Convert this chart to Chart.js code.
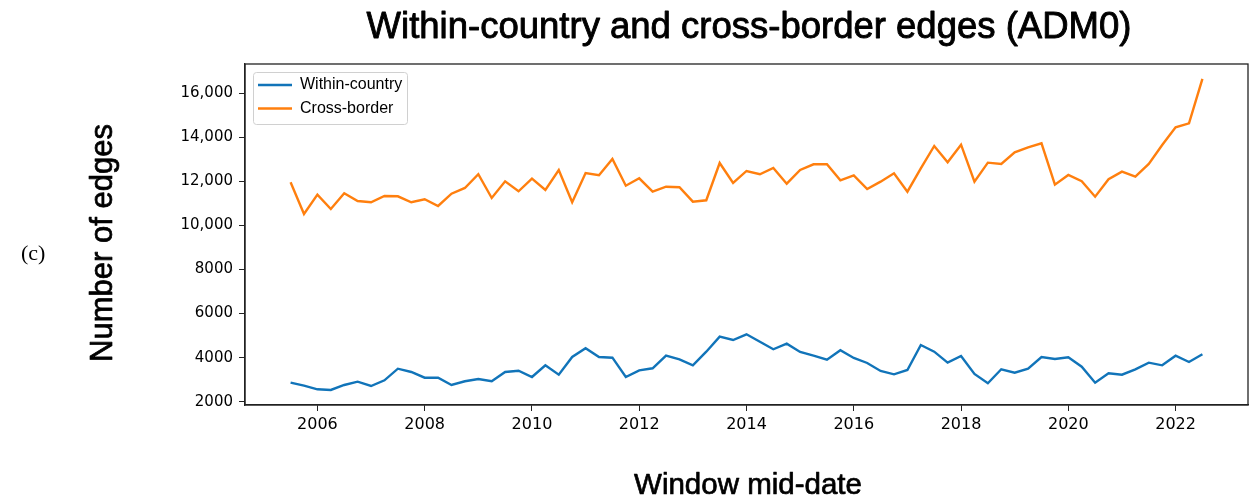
<!DOCTYPE html>
<html>
<head>
<meta charset="utf-8">
<script src="https://cdn.jsdelivr.net/npm/chart.js@4/dist/chart.umd.min.js"></script>
<style>
  html, body { margin: 0; padding: 0; background: #fff; }
  #wrap { position: relative; width: 1250px; height: 499px; }
</style>
</head>
<body>
<div id="wrap"><canvas id="c" width="1250" height="499"></canvas></div>
<script>
// ---- data ----
const dates = [
  2005.5, 2005.75, 2006.0, 2006.25, 2006.5, 2006.75, 2007.0, 2007.25, 2007.5, 2007.75,
  2008.0, 2008.25, 2008.5, 2008.75, 2009.0, 2009.25, 2009.5, 2009.75, 2010.0, 2010.25,
  2010.5, 2010.75, 2011.0, 2011.25, 2011.5, 2011.75, 2012.0, 2012.25, 2012.5, 2012.75,
  2013.0, 2013.25, 2013.5, 2013.75, 2014.0, 2014.25, 2014.5, 2014.75, 2015.0, 2015.25,
  2015.5, 2015.75, 2016.0, 2016.25, 2016.5, 2016.75, 2017.0, 2017.25, 2017.5, 2017.75,
  2018.0, 2018.25, 2018.5, 2018.75, 2019.0, 2019.25, 2019.5, 2019.75, 2020.0, 2020.25,
  2020.5, 2020.75, 2021.0, 2021.25, 2021.5, 2021.75, 2022.0, 2022.25, 2022.5
];
const withinCountry = [
  2863, 2726, 2563, 2531, 2758, 2908, 2713, 2972, 3498, 3348,
  3090, 3090, 2758, 2926, 3031, 2926, 3348, 3407, 3121, 3652,
  3226, 4029, 4424, 4029, 3998, 3121, 3425, 3516, 4088, 3925,
  3652, 4270, 4951, 4801, 5060, 4724, 4379, 4633, 4256, 4088,
  3907, 4334, 3984, 3757, 3394, 3244, 3439, 4574, 4270, 3771,
  4075, 3258, 2835, 3471, 3317, 3498, 4029, 3939, 4016, 3589,
  2863, 3289, 3226, 3471, 3771, 3652, 4088, 3802, 4152
];
const crossBorder = [
  11961, 10521, 11398, 10749, 11461, 11112, 11053, 11339, 11325, 11053,
  11189, 10885, 11443, 11702, 12324, 11248, 12006, 11552, 12124, 11611,
  12519, 11053, 12383, 12278, 13018, 11806, 12142, 11534, 11761, 11733,
  11080, 11144, 12837, 11929, 12474, 12324, 12610, 11897, 12519, 12778,
  12778, 12052, 12278, 11657, 11988, 12369, 11534, 12596, 13609, 12869,
  13668, 11988, 12851, 12792, 13323, 13550, 13731, 11852, 12292, 12006,
  11307, 12097, 12442, 12215, 12792, 13654, 14458, 14639, 16651
];
const seriesNames = ["Within-country", "Cross-border"];
const xTickValues = [2006, 2008, 2010, 2012, 2014, 2016, 2018, 2020, 2022];
const xTickLabels = ["2006", "2008", "2010", "2012", "2014", "2016", "2018", "2020", "2022"];
const yTickValues = [2000, 4000, 6000, 8000, 10000, 12000, 14000, 16000];
const yTickLabels = ["2000", "4000", "6000", "8000", "10,000", "12,000", "14,000", "16,000"];
const titleText = "Within-country and cross-border edges (ADM0)";
const xTitle = "Window mid-date";
const yTitle = "Number of edges";
const panelLabel = "(c)";

// ---- styles ----
const BLUE = "#1174b9";
const ORANGE = "#ff7f0e";
const SANS = "'Liberation Sans', Arial, sans-serif";
const TICKFONT = "'DejaVu Sans', sans-serif";

function heavyText(ctx, txt, x, y, sw) {
  ctx.fillText(txt, x, y);
  ctx.lineWidth = sw;
  ctx.strokeStyle = ctx.fillStyle;
  ctx.lineJoin = "round";
  ctx.strokeText(txt, x, y);
}

const decor = {
  id: "decor",
  afterDraw(chart) {
    const ctx = chart.ctx;
    const a = chart.chartArea;
    ctx.save();
    // frame
    ctx.strokeStyle = "#222";
    ctx.lineWidth = 1.3;
    ctx.strokeRect(a.left, a.top, a.right - a.left, a.bottom - a.top);
    // title
    ctx.fillStyle = "#000";
    ctx.textAlign = "center";
    ctx.textBaseline = "alphabetic";
    ctx.font = "36.5px " + SANS;
    heavyText(ctx, titleText, 749, 38, 0.9);
    // x title
    ctx.font = "29.5px " + SANS;
    heavyText(ctx, xTitle, 748, 494, 0.7);
    // y title
    ctx.save();
    ctx.translate(112, 243);
    ctx.rotate(-Math.PI / 2);
    ctx.font = "31px " + SANS;
    heavyText(ctx, yTitle, 0, 0, 0.7);
    ctx.restore();
    // panel label
    ctx.font = "22px 'Liberation Serif', 'DejaVu Serif', serif";
    ctx.textAlign = "left";
    ctx.fillText(panelLabel, 21, 260);
    // legend
    const lx = 253, ly = 72, lw = 154, lh = 52;
    ctx.beginPath();
    if (ctx.roundRect) ctx.roundRect(lx + 0.5, ly + 0.5, lw, lh, 3); else ctx.rect(lx + 0.5, ly + 0.5, lw, lh);
    ctx.fillStyle = "rgba(255,255,255,0.8)";
    ctx.fill();
    ctx.strokeStyle = "#d0d0d0";
    ctx.lineWidth = 1;
    ctx.stroke();
    const ys = [85, 108.5];
    chart.data.datasets.forEach((ds, i) => {
      ctx.strokeStyle = ds.borderColor;
      ctx.lineWidth = 2.4;
      ctx.beginPath();
      ctx.moveTo(258, ys[i]);
      ctx.lineTo(292, ys[i]);
      ctx.stroke();
      ctx.fillStyle = "#000";
      ctx.font = "16px " + SANS;
      ctx.textAlign = "left";
      ctx.textBaseline = "middle";
      ctx.fillText(ds.label, 300, ys[i]);
    });
    ctx.restore();
  }
};

new Chart(document.getElementById("c"), {
  type: "line",
  data: {
    datasets: [
      { label: seriesNames[0], data: dates.map((d, i) => ({ x: d, y: withinCountry[i] })),
        borderColor: BLUE, backgroundColor: BLUE, borderWidth: 2.4, pointRadius: 0, tension: 0 },
      { label: seriesNames[1], data: dates.map((d, i) => ({ x: d, y: crossBorder[i] })),
        borderColor: ORANGE, backgroundColor: ORANGE, borderWidth: 2.4, pointRadius: 0, tension: 0 }
    ]
  },
  options: {
    responsive: false,
    animation: false,
    devicePixelRatio: 1,
    layout: { padding: { left: 0, top: 64, right: 2, bottom: 0 } },
    plugins: { legend: { display: false }, title: { display: false }, tooltip: { enabled: false } },
    scales: {
      x: {
        type: "linear",
        min: 2004.65, max: 2023.35,
        afterBuildTicks: (s) => { s.ticks = xTickValues.map(v => ({ value: v })); },
        afterFit: (s) => { s.height = 94; },
        ticks: {
          callback: (v) => xTickLabels[xTickValues.indexOf(v)] ?? "",
          font: { family: TICKFONT, size: 16 }, color: "#000", padding: 4, maxRotation: 0, autoSkip: false
        },
        grid: { drawOnChartArea: false, drawTicks: true, tickLength: 6, color: "#222" },
        border: { display: true, color: "#222", width: 1.3 }
      },
      y: {
        type: "linear",
        min: 1850, max: 17330,
        afterBuildTicks: (s) => { s.ticks = yTickValues.map(v => ({ value: v })); },
        afterFit: (s) => { s.width = 245; },
        ticks: {
          callback: (v) => yTickLabels[yTickValues.indexOf(v)] ?? "",
          font: { family: TICKFONT, size: 15 }, color: "#000", padding: 6, autoSkip: false
        },
        grid: { drawOnChartArea: false, drawTicks: true, tickLength: 6, color: "#222" },
        border: { display: true, color: "#222", width: 1.3 }
      }
    }
  },
  plugins: [decor]
});
</script>
</body>
</html>
